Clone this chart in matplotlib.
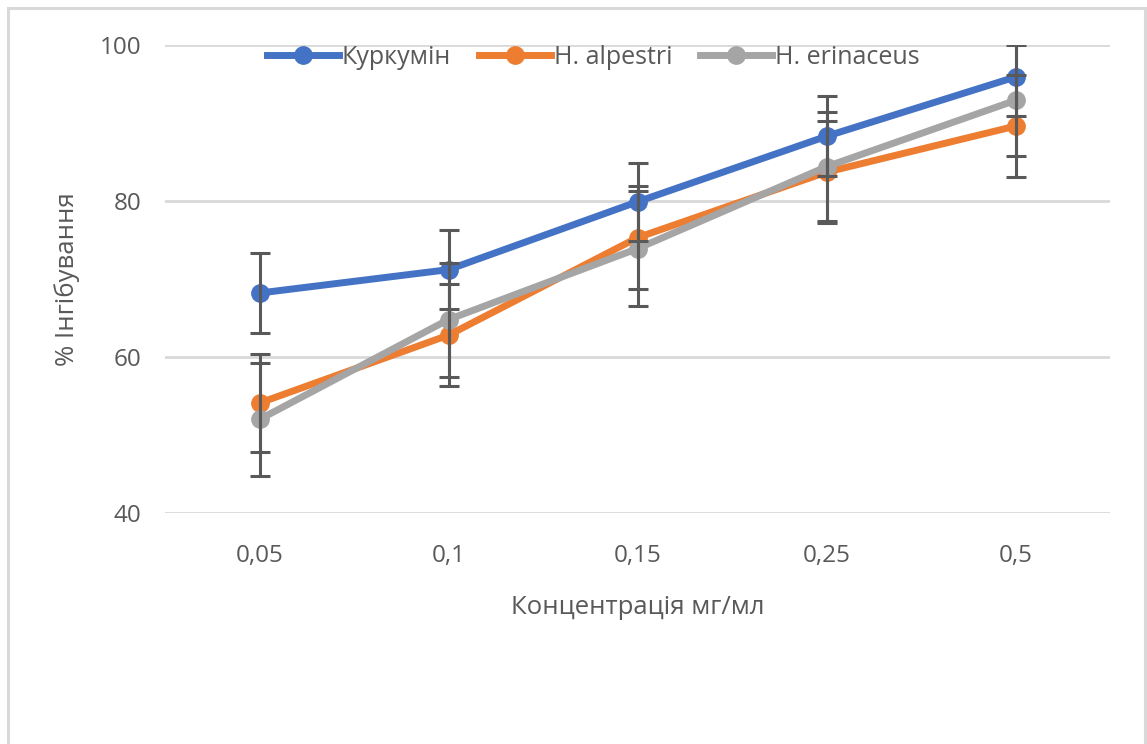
import matplotlib.pyplot as plt
from matplotlib.lines import Line2D
from matplotlib.patches import Rectangle

concentrations = ["0,05", "0,1", "0,15", "0,25", "0,5"]
series_names = ["Куркумін", "H. alpestri", "H. erinaceus"]
curcumin = [68.2, 71.2, 79.9, 88.3, 95.9]
alpestri = [54.1, 62.8, 75.3, 83.7, 89.6]
erinaceus = [52.0, 64.8, 73.9, 84.4, 92.9]
curcumin_err = [5.1, 5.1, 5.0, 5.1, 5.0]
alpestri_err = [6.3, 6.5, 6.6, 6.5, 6.5]
erinaceus_err = [7.2, 7.3, 7.4, 7.0, 7.1]
colors = ["#4472C4", "#ED7D31", "#A5A5A5"]

text_color = "#595959"
grid_color = "#D9D9D9"
plt.rcParams["font.family"] = ["Open Sans", "DejaVu Sans"]

fig = plt.figure(figsize=(11.47, 7.44), dpi=100)
ax = fig.add_axes([165 / 1147, 1 - 513 / 744, 945 / 1147, 468 / 744])

x = list(range(len(concentrations)))
values = [curcumin, alpestri, erinaceus]
errors = [curcumin_err, alpestri_err, erinaceus_err]
for name, ys, err, color in zip(series_names, values, errors, colors):
    ax.plot(x, ys, color=color, lw=5, marker="o", markersize=12.5, zorder=3, label=name)
    ax.errorbar(x, ys, yerr=err, fmt="none", ecolor=text_color, elinewidth=2.2,
                capsize=7, capthick=2.2, zorder=4)

ax.set_xlim(-0.5, len(concentrations) - 0.5)
ax.set_ylim(40, 100)
ax.set_yticks([40, 60, 80, 100])
ax.set_xticks(x)
ax.set_xticklabels(concentrations)
ax.yaxis.grid(True, color=grid_color, lw=2)
ax.set_axisbelow(True)
for spine in ax.spines.values():
    spine.set_visible(False)
ax.tick_params(axis="both", length=0, labelsize=17.5, colors=text_color)
ax.tick_params(axis="y", pad=17)
ax.tick_params(axis="x", pad=22)
ax.set_xlabel("Концентрація мг/мл", fontsize=18.5, color=text_color, labelpad=20)
ax.set_ylabel("% Інгібування", fontsize=18.5, color=text_color, labelpad=14)

handles = [Line2D([], [], color=c, lw=5, marker="o", markersize=12.5) for c in colors]
fig.legend(handles, series_names, loc="center", bbox_to_anchor=(593 / 1147, 1 - 57 / 744),
           ncol=3, frameon=False, fontsize=18, labelcolor=text_color,
           handlelength=2.9, handletextpad=0.1, columnspacing=1.1)

fig.patches.append(Rectangle((8 / 1147, -0.01), 1137 / 1147, 1 - 8 / 744 + 0.01,
                             transform=fig.transFigure, fill=False,
                             edgecolor=grid_color, lw=2.2))

fig.savefig("out.png", dpi=100)
